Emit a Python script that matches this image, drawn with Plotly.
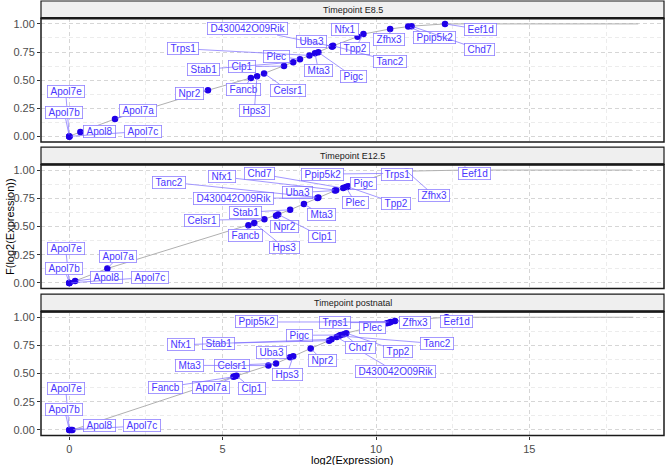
import plotly.graph_objects as go

W, H = 667, 465

# ---------------- data ----------------
genes = ["Apol7e", "Apol7b", "Apol8", "Apol7c", "Apol7a", "Npr2", "Fancb", "Hps3",
         "Celsr1", "Clp1", "Stab1", "Plec", "Trps1", "Mta3", "Uba3", "D430042O09Rik",
         "Pigc", "Nfx1", "Tpp2", "Tanc2", "Zfhx3", "Ppip5k2", "Chd7", "Eef1d"]

e85_log2 = [0.0, 0.0, 0.36, 0.0, 1.49, 4.52, 5.92, 6.12,
            6.35, 7.00, 7.30, 7.52, 7.83, 8.01, 8.56, 8.58,
            8.12, 9.40, 9.59, 8.60, 10.46, 11.05, 11.16, 12.25]
e85_F = [0.0, 0.0, 0.04, 0.0, 0.155, 0.41, 0.52, 0.535,
         0.56, 0.625, 0.66, 0.685, 0.72, 0.74, 0.80, 0.80,
         0.747, 0.887, 0.91, 0.805, 0.955, 0.976, 0.98, 1.0]

e125_log2 = [0.0, 0.0, 0.19, 0.0, 1.24, 6.74, 5.84, 6.03,
             6.36, 6.81, 7.20, 9.02, 10.6, 7.65, 8.66, 8.09,
             9.10, 8.70, 9.06, 8.12, 11.0, 10.3, 8.93, 12.9]
e125_F = [0.0, 0.0, 0.018, 0.0, 0.128, 0.595, 0.51, 0.53,
          0.565, 0.607, 0.648, 0.85, 0.98, 0.70, 0.818, 0.753,
          0.857, 0.822, 0.853, 0.757, 0.99, 0.97, 0.84, 1.0]

post_log2 = [0.0, 0.0, 0.06, 0.1, 5.40, 7.87, 5.35, 7.30,
             6.74, 5.45, 8.47, 10.35, 10.42, 6.49, 7.20, 8.72,
             8.85, 8.55, 9.03, 8.80, 10.62, 10.48, 8.95, 12.3]
post_F = [0.0, 0.0, 0.0, 0.0, 0.476, 0.723, 0.472, 0.654,
          0.59, 0.48, 0.792, 0.946, 0.952, 0.571, 0.645, 0.824,
          0.842, 0.804, 0.859, 0.835, 0.967, 0.958, 0.85, 1.0]

# largest log2 expression in each timepoint (ECDF reaches 1 there)
tail_log2 = [18.55, 18.34, 18.39]
panel_titles = ["Timepoint E8.5", "Timepoint E12.5", "Timepoint postnatal"]

# ---------------- label placement (repelled label boxes) ----------------
LAB_E85 = {
    "Apol7e": (-0.12, 0.397), "Apol7b": (-0.16, 0.21), "Apol8": (1.0, 0.045),
    "Apol7c": (2.41, 0.045), "Apol7a": (2.23, 0.23), "Npr2": (3.91, 0.38),
    "Fancb": (5.67, 0.416), "Hps3": (6.03, 0.226), "Celsr1": (7.14, 0.41),
    "Clp1": (5.64, 0.62), "Stab1": (4.37, 0.595), "Plec": (6.76, 0.714),
    "Trps1": (3.70, 0.78), "Mta3": (8.12, 0.59), "Uba3": (7.90, 0.84),
    "D430042O09Rik": (5.80, 0.955), "Pigc": (9.26, 0.53), "Nfx1": (8.99, 0.95),
    "Tpp2": (9.32, 0.78), "Tanc2": (10.46, 0.67), "Zfhx3": (10.43, 0.86),
    "Ppip5k2": (11.90, 0.88), "Chd7": (13.39, 0.77), "Eef1d": (13.42, 0.95),
}
LAB_E125 = {
    "Apol7e": (-0.12, 0.306), "Apol7b": (-0.16, 0.125), "Apol8": (1.22, 0.05),
    "Apol7c": (2.63, 0.05), "Apol7a": (1.60, 0.232), "Celsr1": (4.32, 0.556),
    "Fancb": (5.73, 0.416), "Hps3": (7.03, 0.31), "Npr2": (7.03, 0.50),
    "Clp1": (8.23, 0.41), "Stab1": (5.73, 0.625), "Mta3": (8.21, 0.605),
    "D430042O09Rik": (5.35, 0.75), "Uba3": (7.45, 0.80), "Tanc2": (3.26, 0.893),
    "Nfx1": (4.99, 0.94), "Chd7": (6.19, 0.967), "Ppip5k2": (8.25, 0.964),
    "Plec": (9.32, 0.71), "Pigc": (9.59, 0.885), "Tpp2": (10.64, 0.705),
    "Trps1": (10.67, 0.96), "Zfhx3": (11.90, 0.773), "Eef1d": (13.2, 0.967),
}
LAB_POST = {
    "Apol7e": (-0.12, 0.372), "Apol7b": (-0.16, 0.185), "Apol8": (0.98, 0.038),
    "Apol7c": (2.36, 0.038), "Fancb": (3.14, 0.378), "Apol7a": (4.61, 0.378),
    "Clp1": (5.95, 0.37), "Mta3": (3.93, 0.573), "Celsr1": (5.30, 0.575),
    "Hps3": (7.10, 0.495), "Uba3": (6.60, 0.69), "Npr2": (8.26, 0.617),
    "Nfx1": (3.63, 0.755), "Stab1": (4.87, 0.768), "Pigc": (7.52, 0.84),
    "Ppip5k2": (6.11, 0.958), "Trps1": (8.66, 0.953), "Plec": (9.88, 0.913),
    "Chd7": (9.49, 0.733), "Tpp2": (10.73, 0.699), "D430042O09Rik": (10.62, 0.52),
    "Tanc2": (11.98, 0.765), "Zfhx3": (11.27, 0.953), "Eef1d": (12.63, 0.958),
}

panels = [
    (panel_titles[0], e85_log2, e85_F, tail_log2[0], LAB_E85),
    (panel_titles[1], e125_log2, e125_F, tail_log2[1], LAB_E125),
    (panel_titles[2], post_log2, post_F, tail_log2[2], LAB_POST),
]

# ---------------- geometry (pixels) ----------------
PL, PR = 41.0, 664.0
GEOM = [(1.0, 18.3, 142.0), (147.2, 164.4, 288.6), (294.2, 311.6, 435.6)]
XR = [-0.923, 19.39]
YR = [-0.05, 1.05]

FONT = "Liberation Sans, Arial, sans-serif"
PT_COL = "#1f00e8"
TXT_COL = "#4a36ff"
BOX_COL = "#8f80ff"
SEG_COL = "#7a6aff"
MAJ = "#d6d6d6"
MIN = "#ececec"

fig = go.Figure()
layout = dict(
    width=W, height=H, margin=dict(l=0, r=0, t=0, b=0, autoexpand=False),
    paper_bgcolor="white", plot_bgcolor="white", showlegend=False,
    font=dict(family=FONT, size=11, color="#4d4d4d"),
)
shapes, annotations = [], []

def fx(p):
    return p / W

def fy(p):
    return 1 - p / H

for k, (title, xs, fs, xmax, labpos) in enumerate(panels, start=1):
    sfx = "" if k == 1 else str(k)
    xa, ya = "x" + sfx, "y" + sfx
    s_top, p_top, p_bot = GEOM[k - 1]

    layout["xaxis" + sfx] = dict(
        domain=[fx(PL), fx(PR)], range=XR, anchor=ya, zeroline=False, automargin=False,
        tick0=0, dtick=5, showgrid=True, gridcolor=MAJ, gridwidth=0.7, griddash="4px,3px",
        minor=dict(tick0=0, dtick=2.5, showgrid=True, gridcolor=MIN, gridwidth=0.6, griddash="4px,3px"),
        showticklabels=(k == 3), ticks="outside" if k == 3 else "", ticklen=3,
        tickcolor="#333333", tickfont=dict(size=11, color="#4d4d4d"), showline=False,
    )
    layout["yaxis" + sfx] = dict(
        domain=[fy(p_bot), fy(p_top)], range=YR, anchor=xa, zeroline=False, automargin=False,
        tick0=0, dtick=0.25, tickformat=".2f",
        showgrid=True, gridcolor=MAJ, gridwidth=0.7, griddash="4px,3px",
        minor=dict(tick0=0, dtick=0.125, showgrid=True, gridcolor=MIN, gridwidth=0.6, griddash="4px,3px"),
        ticks="outside", ticklen=3, tickcolor="#333333",
        tickfont=dict(size=11, color="#4d4d4d"), showline=False,
    )

    # ECDF line through the genes, ending at the largest value
    order = sorted(range(len(xs)), key=lambda i: (xs[i], fs[i]))
    lx = [xs[i] for i in order] + [xmax]
    ly = [fs[i] for i in order] + [1.0]
    fig.add_trace(go.Scatter(x=lx, y=ly, xaxis=xa, yaxis=ya, mode="lines",
                             line=dict(color="#b0b0b0", width=1), hoverinfo="skip"))
    fig.add_trace(go.Scatter(x=xs, y=fs, xaxis=xa, yaxis=ya, mode="markers",
                             marker=dict(color=PT_COL, size=6.5, line=dict(width=0)),
                             text=genes, hoverinfo="text"))

    # strip
    shapes.append(dict(type="rect", xref="paper", yref="paper",
                       x0=fx(PL), x1=fx(PR), y0=fy(p_top), y1=fy(s_top),
                       fillcolor="#efefef", line=dict(color="#1a1a1a", width=1.2), layer="below"))
    annotations.append(dict(xref="paper", yref="paper", x=fx((PL + PR) / 2),
                            y=fy((s_top + p_top) / 2), text=title, showarrow=False,
                            font=dict(size=9, color="#1a1a1a", family=FONT),
                            xanchor="center", yanchor="middle"))
    # panel border
    shapes.append(dict(type="rect", xref="paper", yref="paper",
                       x0=fx(PL), x1=fx(PR), y0=fy(p_bot), y1=fy(p_top),
                       line=dict(color="#1a1a1a", width=1.5), layer="above"))
    shapes.append(dict(type="line", xref="paper", yref="paper",
                       x0=fx(PL), x1=fx(PR), y0=fy(p_top), y1=fy(p_top),
                       line=dict(color="#1a1a1a", width=2.5), layer="above"))

    # repelled labels
    for g, x, f in zip(genes, xs, fs):
        ax, ay = labpos[g]
        annotations.append(dict(
            x=x, y=f, xref=xa, yref=ya, ax=ax, ay=ay, axref=xa, ayref=ya,
            text="\u00a0" + g + "\u00a0", showarrow=True, arrowhead=0,
            arrowwidth=0.7, arrowcolor=SEG_COL, standoff=2,
            bgcolor="white", bordercolor=BOX_COL, borderwidth=0.8, borderpad=0,
            font=dict(size=10, color=TXT_COL, family=FONT),
        ))

# axis titles
annotations.append(dict(xref="paper", yref="paper", x=fx((PL + PR) / 2), y=fy(459.5),
                        text="log2(Expression)", showarrow=False,
                        font=dict(size=11, color="black", family=FONT),
                        xanchor="center", yanchor="middle"))
annotations.append(dict(xref="paper", yref="paper", x=fx(10), y=fy(227),
                        text="F(log2(Expression))", showarrow=False, textangle=-90,
                        font=dict(size=11, color="black", family=FONT),
                        xanchor="center", yanchor="middle"))

layout["shapes"] = shapes
layout["annotations"] = annotations
fig.update_layout(**layout)
fig.write_html("out.html", config={"displayModeBar": False},
               post_script="document.body.style.margin='0';document.body.style.overflow='hidden';")
